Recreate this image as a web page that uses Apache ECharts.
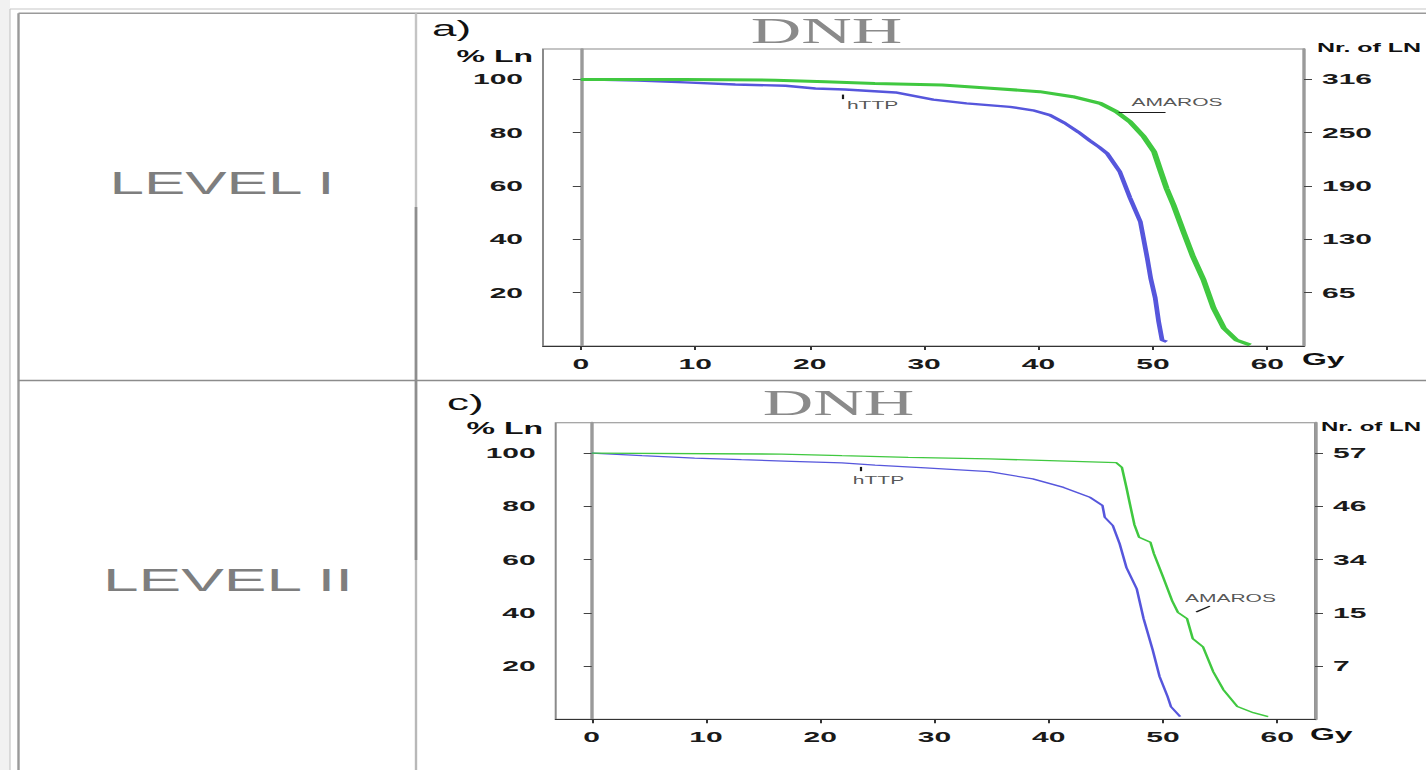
<!DOCTYPE html>
<html><head><meta charset="utf-8">
<script src="https://cdn.jsdelivr.net/npm/echarts@6/dist/echarts.min.js"></script>
<style>
html,body{margin:0;padding:0;background:#fff;overflow:hidden;width:1426px;height:770px;}
#chart{width:713px;height:770px;transform:scaleX(2);transform-origin:0 0;}
</style></head>
<body><div id="chart"></div>
<script>
// ---------- data ----------
const xTicks = [0, 10, 20, 30, 40, 50, 60];
const yTicks = [20, 40, 60, 80, 100];
const rightLabelsI = ['65', '130', '190', '250', '316'];
const rightLabelsII = ['7', '15', '34', '46', '57'];
const rowLabels = ['LEVEL I', 'LEVEL II'];
const panelLetters = ['a)', 'c)'];
const panelTitle = 'DNH';
const seriesNames = ['hTTP', 'AMAROS'];

// Level I, hTTP (blue)
const l1HttpX = [0, 5, 9.1, 13.5, 17.9, 20.5, 23.1, 27.5, 30.8, 33.7, 37.5, 39.5, 41, 42.3, 43.5, 44.5, 45.3, 46, 47.1, 48, 48.9, 49.5, 49.8, 50.2, 50.5, 50.8, 51.2];
const l1HttpY = [100, 99.6, 98.9, 98.1, 97.6, 96.6, 96.2, 95.1, 92.4, 91, 89.7, 88.4, 86.6, 83.6, 80.2, 77, 74.6, 72.2, 65.4, 55.5, 46.6, 33, 25.5, 18, 9.1, 2.2, 1.6];
// Level I, AMAROS (green)
const l1AmaX = [0, 9, 17, 21.4, 25.7, 31.6, 35.8, 40.1, 43, 45.4, 46.8, 48, 49.2, 50.1, 50.6, 51.2, 51.8, 52.7, 53.5, 54.4, 55.3, 56.2, 57.3, 58.5];
const l1AmaY = [100, 100, 99.7, 99.1, 98.5, 97.9, 96.7, 95.4, 93.5, 91, 87.9, 84.1, 78.5, 72.9, 66.5, 59, 52.9, 42.5, 33.5, 25, 14.2, 6.7, 2.2, 0.4];
// Level II, hTTP (blue)
const l2HttpX = [0, 4.4, 9, 13.1, 17.5, 21.9, 24.8, 29.2, 34.8, 38.6, 41.3, 43.6, 44.7, 44.9, 45.6, 46.2, 46.8, 47.7, 48.3, 49.1, 49.7, 50.4, 50.7, 51.5];
const l2HttpY = [100, 99, 98.1, 97.5, 96.9, 96.3, 95.5, 94.4, 93, 90.3, 87.1, 83.4, 80.3, 75.9, 72.8, 66, 57, 49, 37.8, 26, 16, 8.5, 4.7, 1];
// Level II, AMAROS (green)
const l2AmaX = [0, 16.6, 21.9, 27.7, 34.8, 45.9, 46.4, 46.8, 47.1, 47.5, 47.9, 48.9, 49.2, 50, 50.8, 51.3, 52.1, 52.6, 53.5, 54.4, 55.3, 56.5, 57.9, 59.2];
const l2AmaY = [100, 99.6, 99, 98.4, 97.8, 96.4, 94.6, 87, 80.9, 73, 68.4, 66.5, 62.2, 53.5, 44.5, 40.2, 37.8, 30.3, 27.2, 17.8, 11, 4.8, 2.5, 1];

// annotations (data coordinates)
const annI = [{text: 'hTTP', x: 25.5, y: 90.3}, {text: 'AMAROS', x: 52.1, y: 91.3}];
const annII = [{text: 'hTTP', x: 25.1, y: 89.6}, {text: 'AMAROS', x: 55.9, y: 45.4}];
const leadI = [[[22.9, 92.6], [22.9, 94.3]], [[47, 87.6], [51.1, 87.6]]];
const leadII = [[[23.5, 93.2], [23.5, 94.8]], [[52.9, 40.3], [54.1, 42.5]]];

// ---------- layout helpers ----------
const SX = 2;                 // horizontal stretch of the original figure
const u = v => v / SX;
const BLUE = '#5656dc', GREEN = '#40c840';
const FONT = "'Liberation Sans', Arial, sans-serif";
const zip = (xs, ys) => xs.map((x, i) => [x, ys[i]]);

const grids = [
  {left: u(543), top: 49, width: u(1304 - 543), height: 297, show: true, borderColor: '#8a8a8a', borderWidth: 1},
  {left: u(555.7), top: 422.7, width: u(1315 - 555.7), height: 296.6, show: true, borderColor: '#8a8a8a', borderWidth: 1}
];
const xRanges = [[-3.3, 63.2], [-3.15, 63.3]];
const rightLabels = [rightLabelsI, rightLabelsII];

const labelStyle = {fontSize: 15, fontWeight: 'bold', color: '#1a1a1a', fontFamily: FONT};

const xAxes = [0, 1].map(i => ({
  gridIndex: i, type: 'value', min: xRanges[i][0], max: xRanges[i][1],
  axisLine: {show: true, onZero: false, lineStyle: {color: '#333', width: 1}},
  axisTick: {show: true, customValues: xTicks, length: 4, lineStyle: {color: '#333', width: 1}},
  axisLabel: Object.assign({customValues: xTicks, margin: 10}, labelStyle),
  splitLine: {show: false}
}));
const yAxes = [];
[0, 1].forEach(i => {
  yAxes.push({
    gridIndex: i, type: 'value', min: 0, max: 111.4, position: 'left',
    axisLine: {show: true, lineStyle: {color: '#9a9a9a', width: 1.7}},
    axisTick: {show: true, customValues: yTicks, length: 4, lineStyle: {color: '#444', width: 1}},
    axisLabel: Object.assign({customValues: yTicks, margin: 10}, labelStyle),
    splitLine: {show: false}
  });
  yAxes.push({
    gridIndex: i, type: 'value', min: 0, max: 111.4, position: 'right',
    axisLine: {show: true, lineStyle: {color: '#9a9a9a', width: 1.7}},
    axisTick: {show: true, customValues: yTicks, length: 4, lineStyle: {color: '#444', width: 1}},
    axisLabel: Object.assign({customValues: yTicks, margin: 9, align: 'left',
      formatter: v => rightLabels[i][yTicks.indexOf(Math.round(v))] || ''}, labelStyle),
    splitLine: {show: false}
  });
});

function curve(name, xs, ys, gi, color, width) {
  return {
    name, type: 'line', xAxisIndex: gi, yAxisIndex: gi * 2, data: zip(xs, ys),
    showSymbol: false, symbol: 'none', smooth: false, animation: false,
    lineStyle: {color, width}, z: 3
  };
}
function annotations(anns, leads, gi) {
  return {
    type: 'scatter', xAxisIndex: gi, yAxisIndex: gi * 2, animation: false, silent: true,
    symbolSize: 1, itemStyle: {color: 'rgba(0,0,0,0)'},
    data: anns.map(a => ({value: [a.x, a.y], name: a.text})),
    label: {show: true, position: 'inside', formatter: p => p.name,
      fontSize: 10.5, color: '#2a2a2a', fontFamily: FONT},
    markLine: {
      silent: true, symbol: ['none', 'none'], animation: false,
      label: {show: false}, lineStyle: {color: '#1a1a1a', width: 1.1, type: 'solid'},
      data: leads.map(l => [{coord: l[0]}, {coord: l[1]}])
    },
    z: 4
  };
}

const series = [
  curve(seriesNames[0], l1HttpX, l1HttpY, 0, BLUE, 2.4),
  curve(seriesNames[1], l1AmaX, l1AmaY, 0, GREEN, 3),
  curve(seriesNames[0], l2HttpX, l2HttpY, 1, BLUE, 1.3),
  curve(seriesNames[1], l2AmaX, l2AmaY, 1, GREEN, 1.3),
  annotations(annI, leadI, 0),
  annotations(annII, leadII, 1)
];

function line(x1, y1, x2, y2, stroke, lw) {
  return {type: 'line', silent: true, shape: {x1, y1, x2, y2}, style: {stroke, lineWidth: lw}, z: 10};
}
function text(str, x, y, opts) {
  return {type: 'text', silent: true, x, y, z: 10,
    style: Object.assign({text: str, fontFamily: FONT, fill: '#111', verticalAlign: 'middle'}, opts)};
}

const graphic = [
  {type: 'rect', silent: true, shape: {x: 0, y: 0, width: u(10), height: 770}, style: {fill: '#f1f1f1'}, z: 1},
  line(u(10), 9, 713, 9, '#c8c8c8', 1),
  line(u(10), 9, u(10), 770, '#c8c8c8', 0.6),
  line(u(18.5), 13.3, 713, 13.3, '#9a9a9a', 1.4),
  line(u(18.5), 13.3, u(18.5), 770, '#9a9a9a', 1.2),
  line(u(416), 13.3, u(416), 207, '#c4c4c4', 1.2),
  line(u(416), 207, u(416), 560, '#8e8e8e', 1.4),
  line(u(416), 560, u(416), 770, '#b8b8b8', 1.2),
  line(u(18.5), 380.5, 713, 380.5, '#8c8c8c', 1.5),
  text(rowLabels[0], u(222), 183, {fontSize: 31, fill: '#7e7e7e', align: 'center'}),
  text(rowLabels[1], u(228), 580, {fontSize: 32, fill: '#7e7e7e', align: 'center'}),
  text(panelLetters[0], u(432), 28, {fontSize: 22, align: 'left'}),
  text(panelLetters[1], u(447), 402, {fontSize: 22, align: 'left'}),
  text(panelTitle, u(826.5), 31.5, {fontSize: 35, fontFamily: "'Liberation Serif', 'Times New Roman', serif", fill: '#8a8a8a', align: 'center'}),
  text(panelTitle, u(838.5), 403.5, {fontSize: 35, fontFamily: "'Liberation Serif', 'Times New Roman', serif", fill: '#8a8a8a', align: 'center'}),
  text('% Ln', u(533), 56, {fontSize: 16, fontWeight: 'bold', align: 'right'}),
  text('% Ln', u(543), 428, {fontSize: 16, fontWeight: 'bold', align: 'right'}),
  text('Nr. of LN', u(1317), 48, {fontSize: 12.5, fontWeight: 'bold', align: 'left'}),
  text('Nr. of LN', u(1321), 427, {fontSize: 12, fontWeight: 'bold', align: 'left'}),
  text('Gy', u(1302), 359.5, {fontSize: 16, fontWeight: 'bold', align: 'left'}),
  text('Gy', u(1310), 734, {fontSize: 16, fontWeight: 'bold', align: 'left'})
];

const chart = echarts.init(document.getElementById('chart'), null, {renderer: 'svg'});
chart.setOption({
  animation: false,
  backgroundColor: '#ffffff',
  grid: grids,
  xAxis: xAxes,
  yAxis: yAxes,
  series,
  graphic
});
</script>
</body></html>
